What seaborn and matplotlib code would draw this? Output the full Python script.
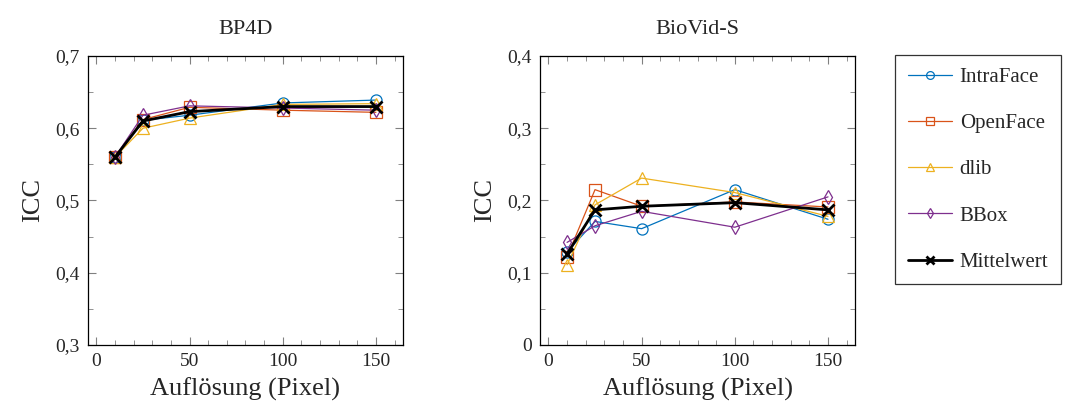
import numpy as np
import pandas as pd
import matplotlib
matplotlib.use("Agg")
import matplotlib.pyplot as plt
import seaborn as sns
from matplotlib.ticker import MultipleLocator, FuncFormatter

# --- data ---
resolution = [10, 25, 50, 100, 150]
methods = ["IntraFace", "OpenFace", "dlib", "BBox", "Mittelwert"]

bp4d_intraface = [0.560, 0.611, 0.618, 0.635, 0.639]
bp4d_openface = [0.560, 0.612, 0.629, 0.625, 0.622]
bp4d_dlib = [0.560, 0.600, 0.614, 0.633, 0.634]
bp4d_bbox = [0.560, 0.618, 0.631, 0.628, 0.625]
bp4d_mean = [0.560, 0.610, 0.623, 0.630, 0.630]

biovid_intraface = [0.129, 0.171, 0.161, 0.215, 0.174]
biovid_openface = [0.122, 0.215, 0.192, 0.198, 0.191]
biovid_dlib = [0.111, 0.194, 0.231, 0.211, 0.178]
biovid_bbox = [0.142, 0.165, 0.185, 0.163, 0.205]
biovid_mean = [0.126, 0.187, 0.192, 0.197, 0.187]

colors = {"IntraFace": "#0072BD", "OpenFace": "#D95319", "dlib": "#EDB120",
          "BBox": "#7E2F8E", "Mittelwert": "black"}
markers = {"IntraFace": "o", "OpenFace": "s", "dlib": "^", "BBox": "d", "Mittelwert": "x"}


def to_long(series):
    rows = []
    for name, vals in zip(methods, series):
        for x, y in zip(resolution, vals):
            rows.append({"res": x, "icc": y, "method": name})
    return pd.DataFrame(rows)


df_bp4d = to_long([bp4d_intraface, bp4d_openface, bp4d_dlib, bp4d_bbox, bp4d_mean])
df_biovid = to_long([biovid_intraface, biovid_openface, biovid_dlib, biovid_bbox, biovid_mean])

sns.set_style("ticks")
plt.rcParams["font.family"] = ["Liberation Serif", "DejaVu Serif"]

fig = plt.figure(figsize=(10.7, 4.16), dpi=100)
ax1 = fig.add_axes([0.0822, 0.1707, 0.2944, 0.6947])
ax2 = fig.add_axes([0.5047, 0.1707, 0.2944, 0.6947])

comma = FuncFormatter(lambda v, p: ("%g" % round(v, 3)).replace(".", ","))


def draw(ax, df, title, ylim):
    for name in methods:
        sub = df[df["method"] == name]
        c = colors[name]
        if name == "Mittelwert":
            sns.lineplot(data=sub, x="res", y="icc", ax=ax, color=c, lw=2,
                         marker="x", markersize=9, markeredgewidth=2,
                         markeredgecolor=c, label=name, zorder=5)
        else:
            sns.lineplot(data=sub, x="res", y="icc", ax=ax, color=c, lw=0.9,
                         marker=markers[name], markersize=8 if name != "BBox" else 7,
                         markerfacecolor="none", markeredgecolor=c,
                         markeredgewidth=0.9, label=name)
    ax.set_xlim(-4.5, 164.5)
    ax.set_ylim(*ylim)
    ax.xaxis.set_major_locator(MultipleLocator(50))
    ax.xaxis.set_minor_locator(MultipleLocator(10))
    ax.yaxis.set_major_locator(MultipleLocator(0.1))
    ax.yaxis.set_minor_locator(MultipleLocator(0.05))
    ax.yaxis.set_major_formatter(comma)
    ax.tick_params(which="both", direction="in", top=True, right=True,
                   color="#808080", labelsize=14, pad=6)
    ax.tick_params(which="major", length=6)
    ax.tick_params(which="minor", length=3.5)
    for s in ax.spines.values():
        s.set_color("black")
        s.set_linewidth(0.9)
    ax.set_title(title, fontsize=16, pad=16)
    ax.set_xlabel("Auflösung (Pixel)", fontsize=19, labelpad=5)
    ax.set_ylabel("ICC", fontsize=19, labelpad=8)
    ax.get_legend().remove()


draw(ax1, df_bp4d, "BP4D", (0.3, 0.7))
draw(ax2, df_biovid, "BioVid-S", (0.0, 0.4))

handles, labels = ax1.get_legend_handles_labels()
leg = fig.legend(handles, labels, loc="upper left", bbox_to_anchor=(0.8365, 0.868),
                 frameon=True, fancybox=False, edgecolor="black", fontsize=15,
                 markerscale=0.7, handlelength=2.15, labelspacing=1.28,
                 borderpad=0.6, handletextpad=0.35, borderaxespad=0)
leg.get_frame().set_linewidth(0.9)

fig.savefig("out.png", dpi=100)
